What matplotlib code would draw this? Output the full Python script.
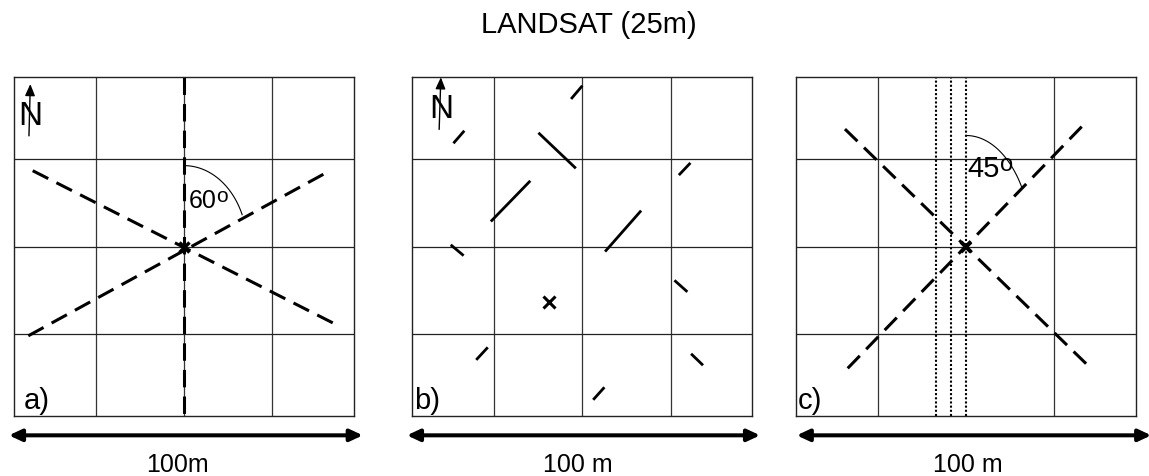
import numpy as np
import matplotlib.pyplot as plt

plt.rcParams['font.family'] = ['Liberation Sans', 'DejaVu Sans']

# each box is 100 m x 100 m, cells are the 25 m Landsat pixels
grid_a = [24, 50, 76]
grid_c_x = [24, 76]          # middle column line in c is one of the dotted ones

# panel a: dashed transects through the centre (x, y in m)
a_lines = [((5.5, 72.4), (94.4, 27.1)),
           ((4.2, 23.6), (92.0, 71.9)),
           ((50, 100), (50, 0))]

# panel b: short field segments and the x sample
b_segments = [((46.7, 93.6), (50.0, 97.5)),
              ((12.1, 80.5), (15.3, 84.2)),
              ((37.1, 83.6), (48.1, 73.1)),
              ((78.4, 71.1), (81.8, 74.7)),
              ((23.1, 57.4), (34.7, 69.4)),
              ((56.7, 48.5), (67.3, 60.6)),
              ((11.3, 50.5), (15.1, 47.3)),
              ((77.1, 40.0), (80.9, 36.6)),
              ((18.8, 16.5), (22.2, 20.2)),
              ((82.0, 18.3), (85.5, 14.9)),
              ((53.2, 4.7), (56.5, 8.4))]
b_cross = (40.3, 33.5)

# panel c: two dashed transects and three dotted lines
c_lines = [((14.4, 84.7), (85.5, 15.2)),
           ((15.2, 14.0), (84.5, 85.9))]
c_dotted = [41.3, 45.6, 50.0]

centre = (50, 50)
panel_labels = ['a)', 'b)', 'c)']
label_x = [2.9, 0.5, 0.4]
scale_spans = [(-1.5, 102.6), (-1.6, 102.3), (0.2, 104.5)]
scale_text = ['100m', '100 m', '100 m']
scale_text_x = [48.2, 48.7, 50.6]

fig = plt.figure(figsize=(11.49, 4.77), dpi=100)
lefts = [14 / 1149, 412.3 / 1149, 796 / 1149]
axes = [fig.add_axes([l, 60.3 / 477, 340 / 1149, 338.4 / 477]) for l in lefts]

dash = (0, (5.7, 3.0))


def angle_arc(ax, rx, ry, slope):
    t0 = np.arctan(slope * rx / ry)
    t = np.linspace(t0, np.pi / 2, 60)
    ax.plot(centre[0] + rx * np.cos(t), centre[1] + ry * np.sin(t), color='k', lw=0.8)


for i, ax in enumerate(axes):
    ax.set_xlim(0, 100)
    ax.set_ylim(0, 100)
    ax.set_xticks([])
    ax.set_yticks([])
    for s in ax.spines.values():
        s.set_linewidth(1.0)
        s.set_color('#222222')
    gx = grid_c_x if i == 2 else grid_a
    for g in gx:
        ax.axvline(g, color='#333333', lw=0.9)
    for g in grid_a:
        ax.axhline(g, color='#222222', lw=0.9)
    ax.text(label_x[i], 2.3, panel_labels[i], fontsize=21, ha='left', va='baseline')
    ax.annotate('', xy=(scale_spans[i][1], -5.8), xytext=(scale_spans[i][0], -5.8),
                arrowprops=dict(arrowstyle='<|-|>,head_length=0.75,head_width=0.35',
                                lw=2.9, color='k', shrinkA=0, shrinkB=0),
                annotation_clip=False)
    ax.text(scale_text_x[i], -16.3, scale_text[i], fontsize=18, ha='center', va='baseline')

# a)
ax = axes[0]
for p, q in a_lines:
    ax.plot([p[0], q[0]], [p[1], q[1]], color='k', lw=2.2, linestyle=dash,
            solid_capstyle='butt', dash_capstyle='butt')
ax.plot(*centre, marker='x', color='k', ms=7, mew=2.5)
angle_arc(ax, 18.6, 23.9, 0.55)
ax.text(51.3, 61.6, '60', fontsize=18, ha='left', va='baseline')
ax.text(59.5, 63.3, 'o', fontsize=15, ha='left', va='baseline')
ax.annotate('', xy=(4.8, 98.0), xytext=(4.4, 82.7),
            arrowprops=dict(arrowstyle='-|>,head_length=0.7,head_width=0.3',
                            lw=1.0, color='k', shrinkA=0, shrinkB=0),
            annotation_clip=False)
ax.text(4.8, 86.2, 'N', fontsize=24, ha='center', va='baseline')

# b)
ax = axes[1]
for p, q in b_segments:
    ax.plot([p[0], q[0]], [p[1], q[1]], color='k', lw=2.0, solid_capstyle='butt')
ax.plot(*b_cross, marker='x', color='k', ms=8.5, mew=2.2)
ax.annotate('', xy=(8.4, 100.0), xytext=(7.9, 84.6),
            arrowprops=dict(arrowstyle='-|>,head_length=0.7,head_width=0.3',
                            lw=1.0, color='k', shrinkA=0, shrinkB=0),
            annotation_clip=False)
ax.text(8.6, 88.2, 'N', fontsize=24, ha='center', va='baseline')

# c)
ax = axes[2]
for x in c_dotted:
    ax.axvline(x, color='k', lw=1.5, linestyle=(0, (1, 1)))
for p, q in c_lines:
    ax.plot([p[0], q[0]], [p[1], q[1]], color='k', lw=2.2, linestyle=dash,
            solid_capstyle='butt', dash_capstyle='butt')
ax.plot(*centre, marker='x', color='k', ms=7, mew=2.8)
angle_arc(ax, 19.4, 32.8, 1.0375)
ax.text(50.5, 70.9, '45', fontsize=21, ha='left', va='baseline')
ax.text(59.9, 72.7, 'o', fontsize=17, ha='left', va='baseline')

fig.text(589 / 1149, 1 - 33.3 / 477, 'LANDSAT (25m)', fontsize=21, ha='center', va='baseline')

fig.savefig('out.png', dpi=100, facecolor='white')
